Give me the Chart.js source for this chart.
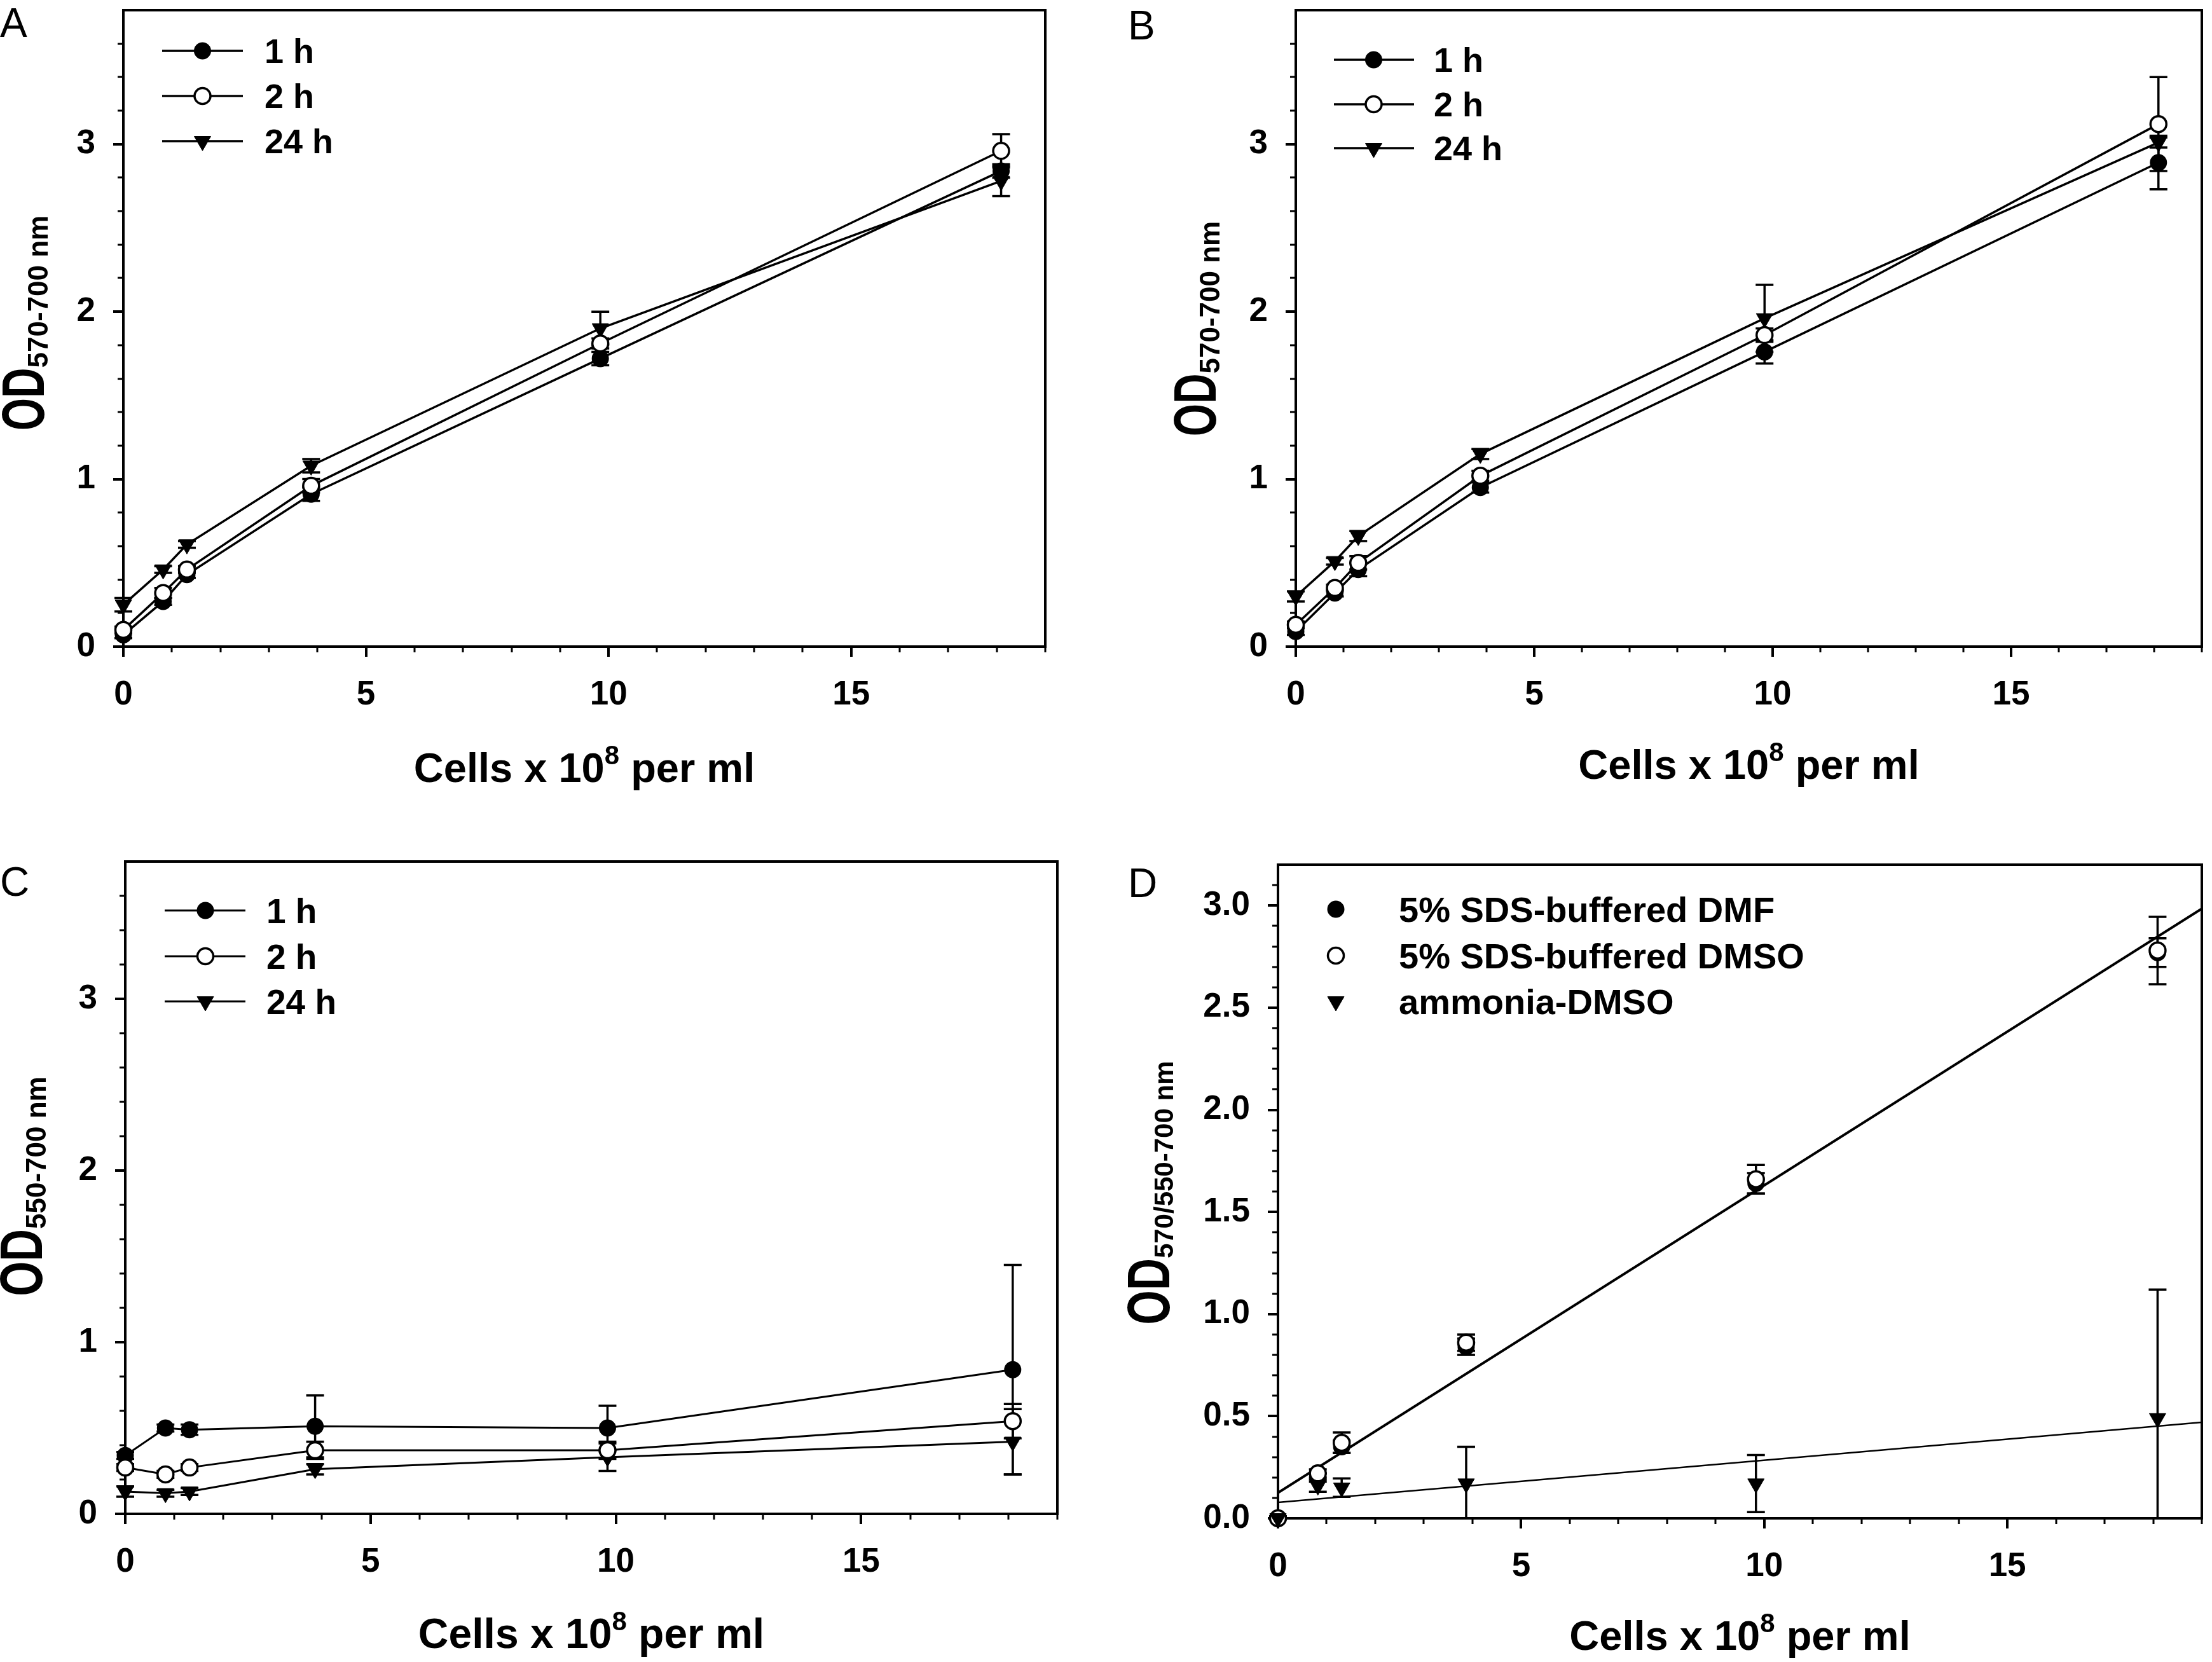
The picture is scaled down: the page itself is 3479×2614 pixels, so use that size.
<!DOCTYPE html>
<html><head><meta charset="utf-8">
<script src="https://cdn.jsdelivr.net/npm/chart.js@4.4.1/dist/chart.umd.min.js"></script>
<style>
html,body{margin:0;padding:0;background:#fff;}
body{width:3479px;height:2614px;position:relative;overflow:hidden;}
canvas{position:absolute;}
</style></head><body>
<canvas id="cA"></canvas><canvas id="cB"></canvas><canvas id="cC"></canvas><canvas id="cD"></canvas>
<script>
// ---------------- data ----------------
const cellsX = [0, 0.82, 1.31, 3.87, 9.83, 18.09];
const timeLabels = ['1 h', '2 h', '24 h'];

const aOneH = [0.07, 0.27, 0.43, 0.91, 1.72, 2.84];
const aOneHErr = [0.02, 0.02, 0.02, 0.04, 0.04, 0.04];
const aTwoH = [0.10, 0.32, 0.46, 0.96, 1.81, 2.96];
const aTwoHErr = [0.02, 0.03, 0.02, 0.04, 0.03, 0.10];
const aDayH = [0.25, 0.46, 0.61, 1.08, 1.90, 2.78];
const aDayHErr = [0.04, 0.02, 0.02, 0.04, 0.10, 0.09];

const bOneH = [0.09, 0.32, 0.46, 0.95, 1.76, 2.89];
const bOneHErr = [0.02, 0.02, 0.04, 0.03, 0.07, 0.16];
const bTwoH = [0.13, 0.35, 0.50, 1.02, 1.86, 3.12];
const bTwoHErr = [0.02, 0.02, 0.04, 0.03, 0.04, 0.28];
const bDayH = [0.30, 0.51, 0.66, 1.15, 1.96, 3.01];
const bDayHErr = [0.03, 0.02, 0.03, 0.03, 0.20, 0.03];

const cOneH = [0.34, 0.50, 0.49, 0.51, 0.50, 0.84];
const cOneHErr = [0.02, 0.02, 0.03, 0.18, 0.13, 0.61];
const cTwoH = [0.27, 0.23, 0.27, 0.37, 0.37, 0.54];
const cTwoHErr = [0.02, 0.02, 0.02, 0.05, 0.05, 0.10];
const cDayH = [0.13, 0.12, 0.13, 0.26, 0.33, 0.42];
const cDayHErr = [0.03, 0.02, 0.02, 0.03, 0.08, 0.19];

const dLabels = ['5% SDS-buffered DMF', '5% SDS-buffered DMSO', 'ammonia-DMSO'];
const dDMF = [0, 0.20, 0.35, 0.84, 1.64, 2.77];
const dDMFErr = [0.01, 0.02, 0.03, 0.04, 0.05, 0.07];
const dDMSO = [0, 0.22, 0.37, 0.86, 1.66, 2.78];
const dDMSOErr = [0.01, 0.02, 0.05, 0.04, 0.07, 0.165];
const dAmmonia = [0, 0.16, 0.15, 0.17, 0.17, 0.49];
const dAmmoniaErr = [0, 0.03, 0.045, 0.18, 0.14, 0.63];
const dFitX = [0, 19];
const dFitDMSO = [0.125, 2.985];
const dFitAmmonia = [0.078, 0.47];

const xTickValues = [0, 5, 10, 15];
const yTickValuesABC = [0, 1, 2, 3];
const yTickValuesD = [0, 0.5, 1, 1.5, 2, 2.5, 3];
const panelLetters = ['A', 'B', 'C', 'D'];
const xTitleParts = ['Cells x 10', '8', ' per ml'];
const yTitleAB = ['OD', '570-700 nm'];
const yTitleC = ['OD', '550-700 nm'];
const yTitleD = ['OD', '570/550-700 nm'];

// ---------------- helpers ----------------
const BLACK = '#000';
const FONT = '"Liberation Sans", Arial, Helvetica, sans-serif';

function pts(xs, ys) { return xs.map((x, i) => ({x: x, y: ys[i]})); }

function minorList(max, step, majorStep, includeMax) {
  const out = [];
  for (let k = 1; ; k++) {
    const v = +(k * step).toFixed(4);
    if (v > max + 1e-9 || (!includeMax && v > max - 1e-9)) break;
    const r = v / majorStep;
    if (Math.abs(r - Math.round(r)) > 1e-6) out.push(v);
  }
  return out;
}

function drawRich(ctx, segs, cx, by) {
  let total = 0;
  const ws = segs.map(s => {
    ctx.font = 'bold ' + s.size + 'px ' + FONT;
    const w = ctx.measureText(s.t).width * (s.sx || 1);
    total += w; return w;
  });
  let x = cx - total / 2;
  ctx.textAlign = 'left'; ctx.textBaseline = 'alphabetic';
  segs.forEach((s, i) => {
    ctx.font = 'bold ' + s.size + 'px ' + FONT;
    ctx.save();
    ctx.translate(x, by + (s.dy || 0));
    ctx.scale(s.sx || 1, 1);
    ctx.fillText(s.t, 0, 0);
    ctx.restore();
    x += ws[i];
  });
}

function timeDatasets(one, oneErr, two, twoErr, day, dayErr, lw) {
  const common = {showLine: true, borderColor: BLACK, borderWidth: lw, tension: 0, clip: false, pointBorderColor: BLACK};
  return [
    Object.assign({label: timeLabels[0], data: pts(cellsX, one), errors: oneErr, pointStyle: 'circle', pointRadius: 12.5,
      pointBackgroundColor: BLACK, pointBorderWidth: 2, order: 1}, common),
    Object.assign({label: timeLabels[1], data: pts(cellsX, two), errors: twoErr, pointStyle: 'circle', pointRadius: 12.5,
      pointBackgroundColor: '#fff', pointBorderWidth: 3.5, order: 0}, common),
    Object.assign({label: timeLabels[2], data: pts(cellsX, day), errors: dayErr, pointStyle: 'triangle', pointRotation: 180,
      pointRadius: 15, pointBackgroundColor: BLACK, pointBorderWidth: 1, order: 2}, common)
  ];
}

function makeScales(p) {
  const strip = s => { s.paddingLeft = 0; s.paddingRight = 0; s.paddingTop = 0; s.paddingBottom = 0; };
  const gridOpts = {drawOnChartArea: false, drawTicks: true, tickLength: 16, lineWidth: 4, color: BLACK};
  return {
    x: {
      type: 'linear', position: 'bottom', min: 0, max: 19,
      afterBuildTicks: s => { s.ticks = xTickValues.map(v => ({value: v})); },
      afterFit: s => { s.height = p.oy + p.h - p.bottom; strip(s); },
      ticks: {color: BLACK, font: {family: FONT, weight: 'bold', size: p.tickSize}, padding: 29,
        maxRotation: 0, minRotation: 0, autoSkip: false, callback: v => String(v)},
      grid: gridOpts, border: {display: false}
    },
    y: {
      type: 'linear', position: 'left', min: 0, max: p.yMax,
      afterBuildTicks: s => { s.ticks = p.yTicks.map(v => ({value: v})); },
      afterFit: s => { s.width = p.left - p.ox; strip(s); },
      ticks: {color: BLACK, font: {family: FONT, weight: 'bold', size: p.tickSize}, padding: 28,
        autoSkip: false, callback: p.fmt},
      grid: gridOpts, border: {display: false}
    }
  };
}

function makeDecor(p) {
  return {
    id: 'decor' + p.id,
    beforeDatasetsDraw(chart) {
      const ctx = chart.ctx, ca = chart.chartArea, x = chart.scales.x, y = chart.scales.y;
      ctx.save();
      ctx.strokeStyle = BLACK;
      ctx.lineWidth = 3;
      ctx.beginPath();
      p.xMinor.forEach(v => { const px = Math.round(x.getPixelForValue(v)); ctx.moveTo(px, ca.bottom); ctx.lineTo(px, ca.bottom + 9); });
      p.yMinor.forEach(v => { const py = Math.round(y.getPixelForValue(v)); ctx.moveTo(ca.left - 9, py); ctx.lineTo(ca.left, py); });
      ctx.stroke();
      ctx.lineWidth = 4;
      ctx.strokeRect(ca.left, ca.top, ca.right - ca.left, ca.bottom - ca.top);
      // error bars
      ctx.beginPath(); ctx.rect(0, ca.top, chart.width, ca.bottom - ca.top); ctx.clip();
      ctx.lineWidth = 3.5;
      chart.data.datasets.forEach(ds => {
        if (!ds.errors) return;
        ds.data.forEach((pt, j) => {
          const e = ds.errors[j]; if (!e) return;
          const px = x.getPixelForValue(pt.x);
          const t = y.getPixelForValue(pt.y + e), b = y.getPixelForValue(pt.y - e);
          ctx.beginPath();
          ctx.moveTo(px, t); ctx.lineTo(px, b);
          ctx.moveTo(px - 14, t); ctx.lineTo(px + 14, t);
          ctx.moveTo(px - 14, b); ctx.lineTo(px + 14, b);
          ctx.stroke();
        });
      });
      ctx.restore();
    },
    afterDraw(chart) {
      const ctx = chart.ctx, ca = chart.chartArea;
      const ox = p.ox, oy = p.oy;
      ctx.save();
      ctx.fillStyle = BLACK;
      // panel letter
      ctx.font = '64px ' + FONT;
      ctx.textAlign = 'left'; ctx.textBaseline = 'alphabetic';
      ctx.fillText(p.letter, p.letterX - ox, p.letterY - oy);
      // x title
      drawRich(ctx, [
        {t: xTitleParts[0], size: p.xTitleSize},
        {t: xTitleParts[1], size: Math.round(p.xTitleSize * 0.64), dy: -28},
        {t: xTitleParts[2], size: p.xTitleSize}
      ], (ca.left + ca.right) / 2, p.xTitleY - oy);
      // y title (rotated)
      ctx.save();
      ctx.translate(p.yTitleX - ox, p.yTitleCY - oy);
      ctx.rotate(-Math.PI / 2);
      drawRich(ctx, [
        {t: p.yTitle[0], size: 94, sx: p.odScale},
        {t: p.yTitle[1], size: p.subSize, dy: 6}
      ], 0, 0);
      ctx.restore();
      // legend
      const L = p.legend;
      let k = 0;
      chart.data.datasets.forEach(ds => {
        if (ds.legendSkip) return;
        const row = L.rows[k++] - oy;
        if (L.x1 !== undefined) {
          ctx.strokeStyle = BLACK; ctx.lineWidth = ds.borderWidth;
          ctx.beginPath(); ctx.moveTo(L.x1 - ox, row); ctx.lineTo(L.x2 - ox, row); ctx.stroke();
        }
        ctx.fillStyle = ds.pointBackgroundColor; ctx.strokeStyle = BLACK; ctx.lineWidth = ds.pointBorderWidth;
        Chart.helpers.drawPoint(ctx, {pointStyle: ds.pointStyle, rotation: ds.pointRotation || 0,
          radius: ds.pointRadius, borderWidth: ds.pointBorderWidth}, L.mx - ox, row);
        ctx.fillStyle = BLACK;
        ctx.font = 'bold ' + L.size + 'px ' + FONT;
        ctx.textAlign = 'left'; ctx.textBaseline = 'alphabetic';
        ctx.fillText(ds.label, L.tx - ox, row + 0.358 * L.size);
      });
      ctx.restore();
    }
  };
}

function buildChart(p, datasets) {
  const cv = document.getElementById('c' + p.id);
  cv.width = p.w; cv.height = p.h;
  cv.style.left = p.ox + 'px'; cv.style.top = p.oy + 'px';
  cv.style.width = p.w + 'px'; cv.style.height = p.h + 'px';
  return new Chart(cv, {
    type: 'scatter',
    data: {datasets: datasets},
    options: {
      responsive: false, animation: false, devicePixelRatio: 1, events: [],
      layout: {padding: {left: 0, top: p.top - p.oy, right: p.ox + p.w - p.right, bottom: 0}},
      plugins: {legend: {display: false}, tooltip: {enabled: false}, title: {display: false}},
      scales: makeScales(p)
    },
    plugins: [makeDecor(p)]
  });
}

// ---------------- panels ----------------
const fmtInt = v => String(v);
const fmtOne = v => Number(v).toFixed(1);
const xMinor = minorList(19, 1, 5, true);
const yMinorABC = minorList(3.8, 0.2, 1, false);
const yMinorD = minorList(3.2, 0.1, 0.5, false);

const panelA = {id: 'A', letter: panelLetters[0], ox: 0, oy: 0, w: 1740, h: 1300,
  left: 194, top: 2, right: 1644, bottom: 1017, yMax: 3.8, yTicks: yTickValuesABC, fmt: fmtInt,
  xMinor: xMinor, yMinor: yMinorABC, tickSize: 53, letterX: 0, letterY: 58,
  xTitleSize: 65, xTitleY: 1230, yTitle: yTitleAB, yTitleX: 69, yTitleCY: 508, odScale: 0.7, subSize: 44,
  legend: {x1: 255, x2: 382, mx: 318.5, tx: 416, rows: [80, 151, 222], size: 54}};

const panelB = {id: 'B', letter: panelLetters[1], ox: 1740, oy: 0, w: 1739, h: 1300,
  left: 2038, top: 16, right: 3466, bottom: 1017, yMax: 3.8, yTicks: yTickValuesABC, fmt: fmtInt,
  xMinor: xMinor, yMinor: yMinorABC, tickSize: 53, letterX: 1774, letterY: 62,
  xTitleSize: 65, xTitleY: 1225, yTitle: yTitleAB, yTitleX: 1912, yTitleCY: 517, odScale: 0.7, subSize: 44,
  legend: {x1: 2098, x2: 2224, mx: 2160.5, tx: 2255, rows: [94, 164, 233], size: 54}};

const panelC = {id: 'C', letter: panelLetters[2], ox: 0, oy: 1300, w: 1740, h: 1314,
  left: 197, top: 1355, right: 1663, bottom: 2381, yMax: 3.8, yTicks: yTickValuesABC, fmt: fmtInt,
  xMinor: xMinor, yMinor: yMinorABC, tickSize: 53, letterX: 0, letterY: 1409,
  xTitleSize: 66, xTitleY: 2592, yTitle: yTitleC, yTitleX: 66, yTitleCY: 1866, odScale: 0.75, subSize: 44,
  legend: {x1: 259, x2: 386, mx: 323, tx: 419, rows: [1432, 1504, 1575], size: 55}};

const panelD = {id: 'D', letter: panelLetters[3], ox: 1740, oy: 1300, w: 1739, h: 1314,
  left: 2010, top: 1360, right: 3476, bottom: 2388, yMax: 3.2, yTicks: yTickValuesD, fmt: fmtOne,
  xMinor: xMinor, yMinor: yMinorD, tickSize: 53, letterX: 1774, letterY: 1411,
  xTitleSize: 65, xTitleY: 2595, yTitle: yTitleD, yTitleX: 1839, yTitleCY: 1876, odScale: 0.74, subSize: 42,
  legend: {mx: 2101, tx: 2200, rows: [1430, 1503, 1575], size: 56}};

buildChart(panelA, timeDatasets(aOneH, aOneHErr, aTwoH, aTwoHErr, aDayH, aDayHErr, 3.5));
buildChart(panelB, timeDatasets(bOneH, bOneHErr, bTwoH, bTwoHErr, bDayH, bDayHErr, 3.5));
buildChart(panelC, timeDatasets(cOneH, cOneHErr, cTwoH, cTwoHErr, cDayH, cDayHErr, 3));

const dPoint = {showLine: false, clip: false, pointBorderColor: BLACK, borderColor: BLACK};
buildChart(panelD, [
  Object.assign({label: dLabels[0], data: pts(cellsX, dDMF), errors: dDMFErr, pointStyle: 'circle', pointRadius: 12.5,
    pointBackgroundColor: BLACK, pointBorderWidth: 2, order: 2}, dPoint),
  Object.assign({label: dLabels[1], data: pts(cellsX, dDMSO), errors: dDMSOErr, pointStyle: 'circle', pointRadius: 12.5,
    pointBackgroundColor: '#fff', pointBorderWidth: 3.5, order: 1}, dPoint),
  Object.assign({label: dLabels[2], data: pts(cellsX, dAmmonia), errors: dAmmoniaErr, pointStyle: 'triangle', pointRotation: 180,
    pointRadius: 15, pointBackgroundColor: BLACK, pointBorderWidth: 1, order: 0}, dPoint),
  {label: 'fit DMSO', data: pts(dFitX, dFitDMSO), showLine: true, pointRadius: 0, borderColor: BLACK, borderWidth: 4,
    legendSkip: true, order: 5, tension: 0},
  {label: 'fit ammonia', data: pts(dFitX, dFitAmmonia), showLine: true, pointRadius: 0, borderColor: BLACK, borderWidth: 2.5,
    legendSkip: true, order: 6, tension: 0}
]);
</script>
</body></html>
